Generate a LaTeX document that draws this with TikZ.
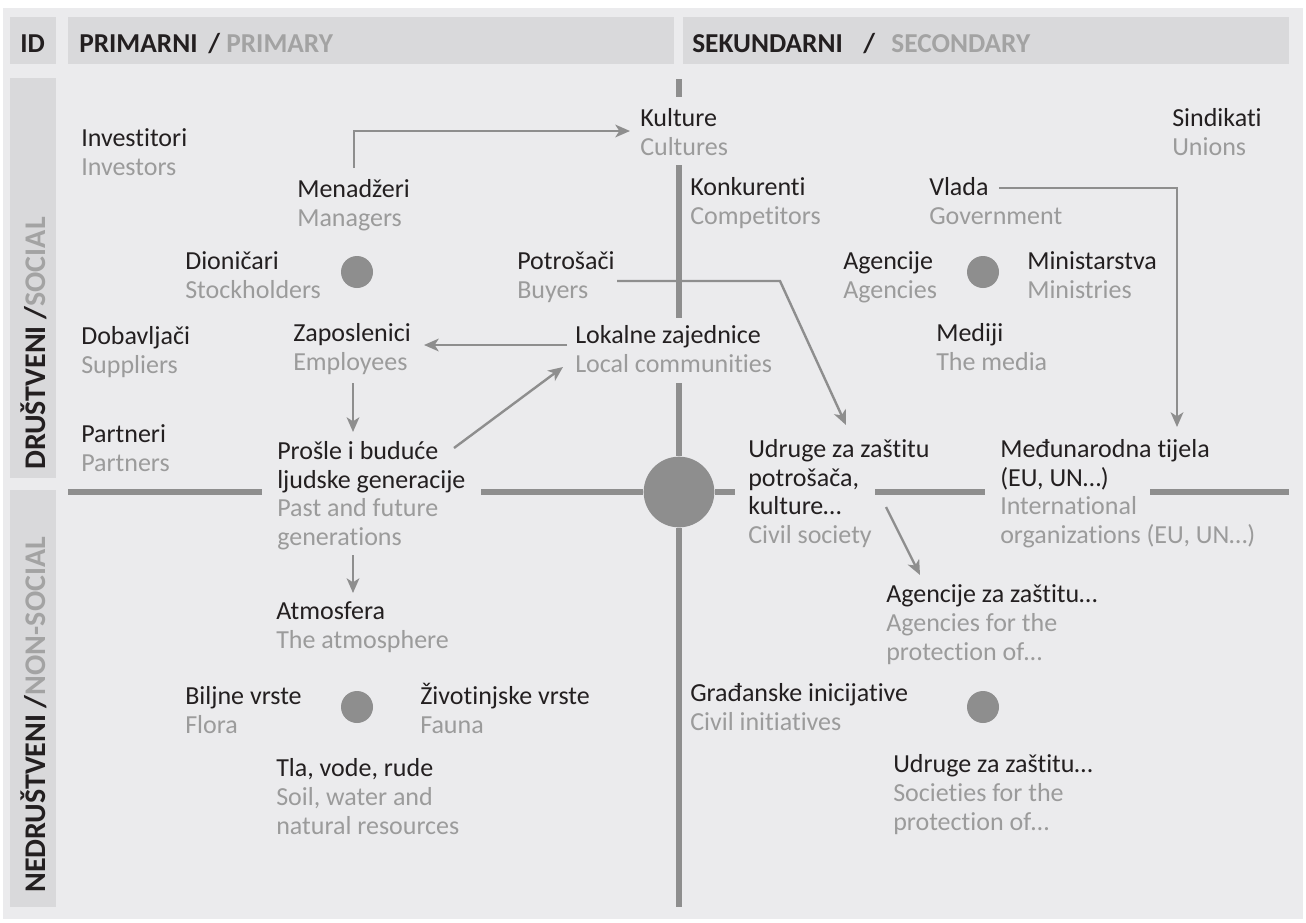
\documentclass[tikz,border=0pt]{standalone}
\usepackage{fontspec}
\setmainfont{Carlito}[Ligatures=NoCommon]
\usetikzlibrary{arrows.meta,calc}
\definecolor{bg}{HTML}{EBEBED}
\definecolor{hdr}{HTML}{D9D9DB}
\definecolor{ink}{HTML}{231F20}
\definecolor{sub}{HTML}{9B9B9B}
\definecolor{hsub}{HTML}{A3A3A3}
\definecolor{ln}{HTML}{8E8E8E}
\newcommand{\gt}[1]{\textcolor{sub}{#1}}
\tikzset{
  lab/.style={anchor=base west, inner sep=0pt, align=left, text=ink, font=\fontsize{19.5}{21.4}\selectfont},
  axis/.style={draw=ln, line width=4.5pt},
  arr/.style={draw=ln, line width=1.8pt, -{Stealth[length=11pt,width=9.5pt,inset=3pt]}},
  dot/.style={circle, fill=ln, inner sep=0pt, minimum size=24pt},
  bigdot/.style={circle, fill=ln, inner sep=0pt, minimum size=53pt},
  head/.style={anchor=base west, inner sep=0pt, text=ink, font=\fontsize{20.5}{24}\bfseries\selectfont},
  rothead/.style={anchor=base west, inner sep=0pt, rotate=90, text=ink, font=\fontsize{22.5}{24}\bfseries\selectfont},
}
\begin{document}
\begin{tikzpicture}[x=0.75pt,y=-0.75pt]
\useasboundingbox (0,0) rectangle (1306,922);
\fill[white] (0,0) rectangle (1306,922);
\fill[bg] (3,8) rectangle (1303,919);
% header boxes
\fill[hdr] (10,17) rectangle (56,64);
\fill[hdr] (68,17) rectangle (674,64);
\fill[hdr] (683,17) rectangle (1289,64);
\fill[hdr] (10,78) rectangle (56,478);
\fill[hdr] (10,490) rectangle (56,907);
\node[head] (id) at (20,52) {ID};
\node[head] (prim) at (79,52) {PRIMARNI \,/ \textcolor{hsub}{PRIMARY}};
\node[head] (sek) at (692,52) {SEKUNDARNI\hspace{0.75em}/\hspace{0.6em}\textcolor{hsub}{SECONDARY}};
\node[rothead] (dru) at (45,470) {DRUŠTVENI /\textcolor{hsub}{SOCIAL}};
\node[rothead] (ned) at (45,893) {NEDRUŠTVENI /\textcolor{hsub}{NON-SOCIAL}};
% dots
\node[dot] (d1) at (357,272) {};
\node[dot] (d2) at (983,272) {};
\node[dot] (d3) at (357,707) {};
\node[dot] (d4) at (983,707) {};
\node[bigdot] (big) at (679,492) {};
% axes
\draw[axis] (679,79) -- (679,97);
\draw[axis] (679,165) -- (679,318);
\draw[axis] (679,383) -- (big.north);
\draw[axis] (big.south) -- (679,907);
\draw[axis] (68,492) -- (262,492);
\draw[axis] (481,492) -- (big.west);
\draw[axis] (big.east) -- (735,492);
\draw[axis] (875,492) -- (985,492);
\draw[axis] (1150,492) -- (1289,492);
% labels (positioned at the baseline of their last line)
\node[lab] (inv) at (81,175.5) {Investitori\\\gt{Investors}};
\node[lab] (men) at (297,226.5) {Menadžeri\\\gt{Managers}};
\node[lab] (kul) at (640,155.5) {Kulture\\\gt{Cultures}};
\node[lab] (sin) at (1172,155.5) {Sindikati\\\gt{Unions}};
\node[lab] (kon) at (690,224.5) {Konkurenti\\\gt{Competitors}};
\node[lab] (vla) at (929,224.5) {Vlada\\\gt{Government}};
\node[lab] (dio) at (185,298.5) {Dioničari\\\gt{Stockholders}};
\node[lab] (pot) at (517,298.5) {Potrošači\\\gt{Buyers}};
\node[lab] (age) at (843,298.5) {Agencije\\\gt{Agencies}};
\node[lab] (min) at (1027,298.5) {Ministarstva\\\gt{Ministries}};
\node[lab] (dob) at (81,373.5) {Dobavljači\\\gt{Suppliers}};
\node[lab] (zap) at (293,370.5) {Zaposlenici\\\gt{Employees}};
\node[lab] (lok) at (575,372.5) {Lokalne zajednice\\\gt{Local communities}};
\node[lab] (med) at (936,370.5) {Mediji\\\gt{The media}};
\node[lab] (par) at (81,471.5) {Partneri\\\gt{Partners}};
\node[lab] (pro) at (277,545.5) {Prošle i buduće\\ljudske generacije\\\gt{Past and future}\\\gt{generations}};
\node[lab] (udr) at (748,543.5) {Udruge za zaštitu\\potrošača,\\kulture…\\\gt{Civil society}};
\node[lab] (mdn) at (1000,543.5) {Međunarodna tijela\\(EU, UN…)\\\gt{International}\\\gt{organizations (EU, UN…)}};
\node[lab] (atm) at (276,648.5) {Atmosfera\\\gt{The atmosphere}};
\node[lab] (azz) at (886,660) {Agencije za zaštitu…\\\gt{Agencies for the}\\\gt{protection of…}};
\node[lab] (bil) at (185,733.5) {Biljne vrste\\\gt{Flora}};
\node[lab] (ziv) at (420,733.5) {Životinjske vrste\\\gt{Fauna}};
\node[lab] (gra) at (690,730.5) {Građanske inicijative\\\gt{Civil initiatives}};
\node[lab] (tla) at (276,834) {Tla, vode, rude\\\gt{Soil, water and}\\\gt{natural resources}};
\node[lab] (uzz) at (893,830) {Udruge za zaštitu…\\\gt{Societies for the}\\\gt{protection of…}};
% arrows
\draw[arr] ($(men.base west)+(57,-58.5)$) |- ($(kul.base west)+(-10,-24.5)$);
\draw[arr] ($(lok.base west)+(-8,-27.5)$) -- ($(zap.base west)+(131,-25.5)$);
\draw[arr] ($(zap.base west)+(60,12.5)$) -- ($(pro.base west)+(76,-113.5)$);
\draw[arr] ($(pro.base west)+(177,-97.5)$) -- ($(lok.base west)+(-12,-5.5)$);
\draw[arr] ($(pot.base west)+(100,-17.5)$) -- ++(163,0) -- ($(udr.base west)+(98,-118.5)$);
\draw[arr] ($(vla.base west)+(70,-36.5)$) -| ($(mdn.base west)+(177,-116.5)$);
\draw[arr] ($(pro.base west)+(76,9.5)$) -- ($(atm.base west)+(77,-55.5)$);
\draw[arr] ($(udr.base west)+(138,-36.5)$) -- ($(azz.base west)+(34,-85)$);
\end{tikzpicture}
\end{document}
